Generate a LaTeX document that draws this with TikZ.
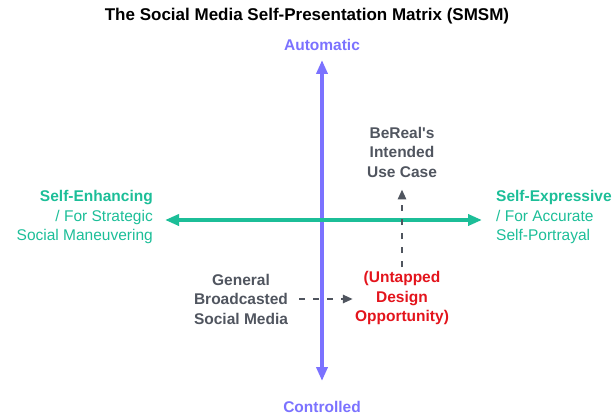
\documentclass[tikz,border=0pt]{standalone}
\usepackage{fontspec}
\setmainfont{Liberation Sans}
\usepackage{xcolor}
\usetikzlibrary{arrows.meta}
\definecolor{axis-purple}{HTML}{7B72FF}
\definecolor{axis-teal}{HTML}{1CBE98}
\definecolor{note-gray}{HTML}{50555F}
\definecolor{note-red}{HTML}{E3141C}
\tikzset{
    body-text/.style = {font=\fontsize{15.5}{19.5}\selectfont, align=center, inner sep=2pt},
    axis-label/.style = {body-text, text=axis-purple, font=\fontsize{15.5}{19.5}\selectfont\bfseries},
    side-label/.style = {body-text, text=axis-teal},
    case-label/.style = {body-text, text=note-gray, font=\fontsize{15.5}{19.5}\selectfont\bfseries},
    vertical-axis/.style = {draw=axis-purple, line width=4pt, {Triangle[length=14pt,width=11pt]}-{Triangle[length=14pt,width=11pt]}},
    horizontal-axis/.style = {draw=axis-teal, line width=3.5pt, {Triangle[length=14pt,width=11pt]}-{Triangle[length=14pt,width=11pt]}},
    dashed-arrow/.style = {draw=note-gray, line width=2.5pt, dash pattern=on 6pt off 8pt, -{Triangle[length=10pt,width=8pt]}},
}

\begin{document}
\begin{tikzpicture}[x=1pt, y=-1pt]
\useasboundingbox (0,0) rectangle (613,417);
% title
\node[font=\fontsize{17}{20}\selectfont\bfseries] (title) at (307,16) {The Social Media Self-Presentation Matrix (SMSM)};
% axes
\coordinate (axis-top) at (322,60);
\coordinate (axis-bottom) at (322,381);
\coordinate (axis-left) at (165,220);
\coordinate (axis-right) at (482,220);
\draw[vertical-axis] (axis-bottom) -- (axis-top);
\draw[horizontal-axis] (axis-left) -- (axis-right);
\node[axis-label] (automatic) at (322,45) {Automatic};
\node[axis-label] (controlled) at (322,407) {Controlled};
\node[side-label, anchor=east, align=right] (enhancing) at (155,217) {\textbf{Self-Enhancing}\\/ For Strategic\\Social Maneuvering};
\node[side-label, anchor=west, align=left] (expressive) at (494,217) {\textbf{Self-Expressive}\\/ For Accurate\\Self-Portrayal};
% cases
\node[case-label] (bereal) at (402,152) {BeReal\textquotesingle s\\Intended\\Use Case};
\node[case-label] (general) at (241,299) {General\\Broadcasted\\Social Media};
\node[case-label, text=note-red] (untapped) at (402,298) {(Untapped\\Design\\Opportunity)};
\draw[dashed-arrow, shorten <=2pt, shorten >=10pt] (untapped.north) -- (bereal.south);
\draw[dashed-arrow, shorten <=9pt] (general.east) -- (general.east -| untapped.west);
\end{tikzpicture}
\end{document}
